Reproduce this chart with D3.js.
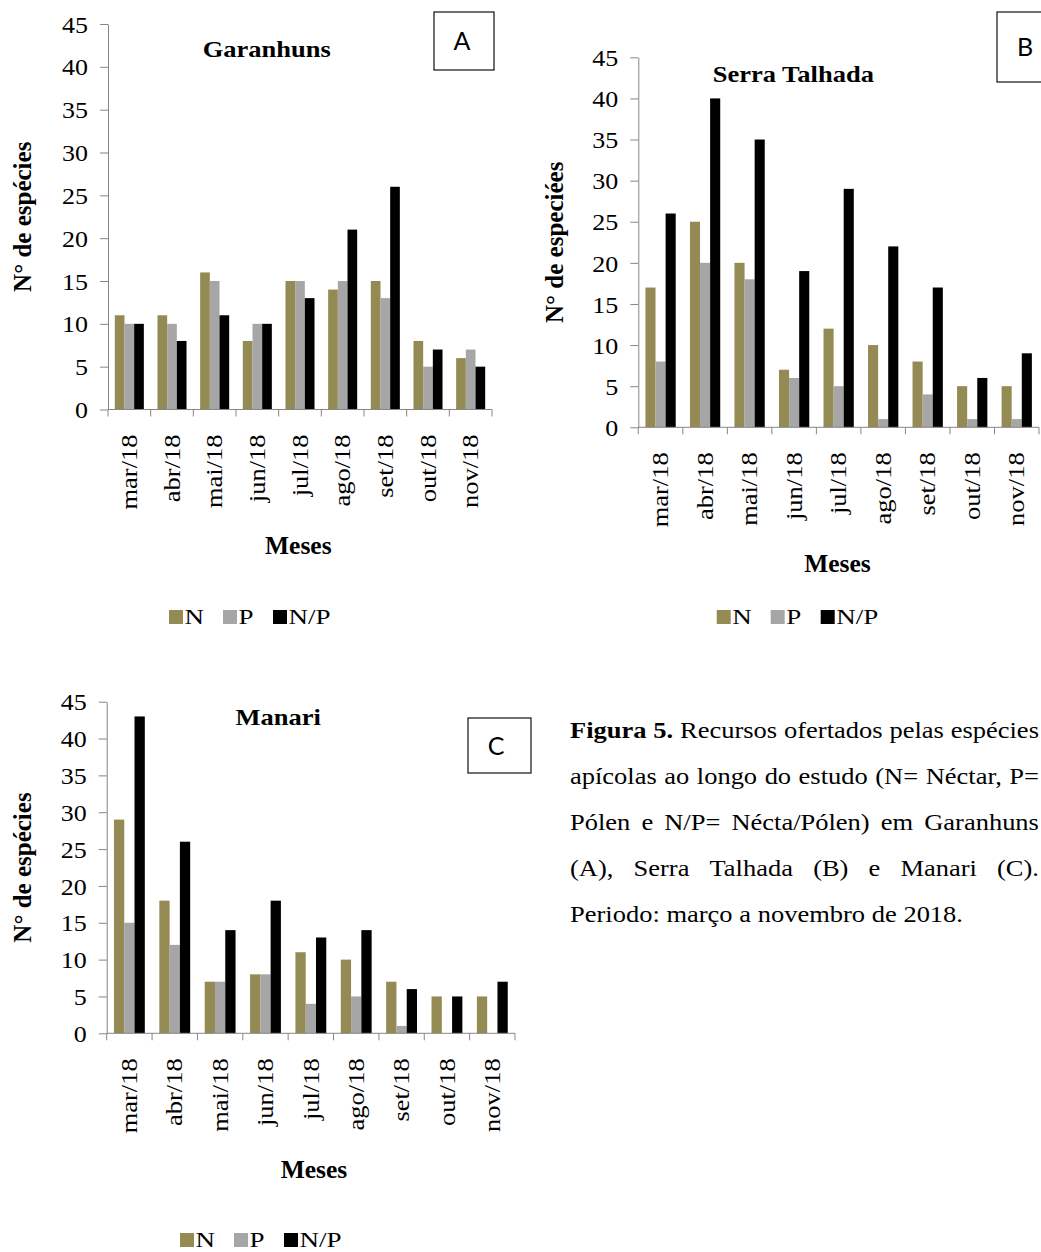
<!DOCTYPE html>
<html>
<head>
<meta charset="utf-8">
<script src="https://cdn.jsdelivr.net/npm/d3@7"></script>
<style>
  html, body { margin: 0; padding: 0; background: #fff; }
  svg { display: block; }
</style>
</head>
<body>
<svg id="fig" width="1041" height="1252"></svg>
<script>
// ---------------- data ----------------
const months = ["mar/18","abr/18","mai/18","jun/18","jul/18","ago/18","set/18","out/18","nov/18"];
const seriesNames = ["N","P","N/P"];
const seriesColors = ["#948A54","#A6A6A6","#000000"];
const yTicks = [0,5,10,15,20,25,30,35,40,45];

const garanhunsN  = [11,11,16, 8,15,14,15, 8, 6];
const garanhunsP  = [10,10,15,10,15,15,13, 5, 7];
const garanhunsNP = [10, 8,11,10,13,21,26, 7, 5];

const serraN  = [17,25,20, 7,12,10, 8, 5, 5];
const serraP  = [ 8,20,18, 6, 5, 1, 4, 1, 1];
const serraNP = [26,40,35,19,29,22,17, 6, 9];

const manariN  = [29,18, 7, 8,11,10, 7, 5, 5];
const manariP  = [15,12, 7, 8, 4, 5, 1, 0, 0];
const manariNP = [43,26,14,18,13,14, 6, 5, 7];

const captionLines = [
  [["Figura",true],["5.",true],["Recursos",false],["ofertados",false],["pelas",false],["espécies",false]],
  [["apícolas",false],["ao",false],["longo",false],["do",false],["estudo",false],["(N=",false],["Néctar,",false],["P=",false]],
  [["Pólen",false],["e",false],["N/P=",false],["Nécta/Pólen)",false],["em",false],["Garanhuns",false]],
  [["(A),",false],["Serra",false],["Talhada",false],["(B)",false],["e",false],["Manari",false],["(C).",false]],
  [["Periodo:",false],["março",false],["a",false],["novembro",false],["de",false],["2018.",false]]
];

// ---------------- layout ----------------
const SERIF = "'Liberation Serif','Times New Roman',serif";
const SANS = "Lato,'Open Sans',sans-serif";
const AXIS = "#868686";
const K = 0.87; // vertical glyph compression

const panels = [
  { title:"Garanhuns", ylab:"N° de espécies", tag:"A",
    values:[garanhunsN, garanhunsP, garanhunsNP],
    x0:108, x1:492, yTop:24, yBot:409.5,
    titleX:266.7, titleY:56.7, ylabX:31, mesesX:298.3,
    box:{x:434,y:12,w:60,h:58}, legX:169, legY:610 },
  { title:"Serra Talhada", ylab:"N° de especiées", tag:"B",
    values:[serraN, serraP, serraNP],
    x0:638.3, x1:1039, yTop:57.3, yBot:427.3,
    titleX:793.3, titleY:81.7, ylabX:563, mesesX:837.5,
    box:{x:997,y:12,w:60,h:70}, legX:716.7, legY:610 },
  { title:"Manari", ylab:"N° de espécies", tag:"C",
    values:[manariN, manariP, manariNP],
    x0:106.7, x1:515, yTop:701.7, yBot:1033.3,
    titleX:278.3, titleY:725, ylabX:31, mesesX:314,
    box:{x:468,y:718,w:63,h:55}, legX:180, legY:1233 }
];

const svg = d3.select("#fig");

function label(g, x, y, str, o) {
  o = o || {};
  const t = g.append("text")
    .attr("transform", `translate(${x},${y})` + (o.rot ? ` rotate(${o.rot})` : "") + ` scale(1,${o.k || K})`)
    .attr("font-family", o.family || SERIF)
    .attr("font-size", o.size || 26)
    .attr("font-weight", o.bold ? "bold" : "normal")
    .attr("text-anchor", o.anchor || "start")
    .attr("fill", "#000")
    .text(str);
  if (o.dy) t.attr("dy", o.dy);
  return t;
}

panels.forEach(p => {
  const g = svg.append("g");
  const x = d3.scaleBand().domain(months).range([p.x0, p.x1]).paddingInner(0.32).paddingOuter(0.16);
  const xs = d3.scaleBand().domain(seriesNames).range([0, x.bandwidth()]);
  const y = d3.scaleLinear().domain([0,45]).range([p.yBot, p.yTop]);

  // bars
  seriesNames.forEach((s, si) => {
    g.append("g").selectAll("rect").data(months.map((m,i)=>({m, v:p.values[si][i]})))
      .join("rect")
      .attr("x", d => x(d.m) + xs(s))
      .attr("width", xs.bandwidth())
      .attr("y", d => y(d.v))
      .attr("height", d => p.yBot - y(d.v))
      .attr("fill", seriesColors[si]);
  });

  // y axis
  const ya = g.append("g").attr("transform", `translate(${p.x0},0)`)
    .call(d3.axisLeft(y).tickValues(yTicks).tickSize(8).tickSizeOuter(0).tickPadding(12));
  ya.select(".domain").attr("stroke", AXIS);
  ya.selectAll(".tick line").attr("stroke", AXIS);
  ya.selectAll(".tick text")
    .attr("font-family", SERIF).attr("font-size", 26).attr("fill", "#000")
    .attr("dy", "0.36em")
    .attr("transform", `scale(1,${K})`);

  // x axis line + boundary ticks
  g.append("line").attr("x1", p.x0).attr("x2", p.x1).attr("y1", p.yBot).attr("y2", p.yBot).attr("stroke", AXIS);
  g.append("g").selectAll("line").data(d3.range(months.length + 1)).join("line")
    .attr("x1", i => p.x0 + i * (p.x1 - p.x0) / months.length)
    .attr("x2", i => p.x0 + i * (p.x1 - p.x0) / months.length)
    .attr("y1", p.yBot).attr("y2", p.yBot + 7)
    .attr("stroke", AXIS);

  // x tick labels (rotated)
  months.forEach(m => {
    label(g, x(m) + x.bandwidth()/2, p.yBot + 25, m, {rot:-90, anchor:"end", size:26.5, k:0.85, dy:"0.34em"});
  });

  // title
  label(g, p.titleX, p.titleY, p.title, {bold:true, anchor:"middle", size:26.5, k:0.88});
  // y label
  label(g, p.ylabX, (p.yTop + p.yBot)/2, p.ylab, {bold:true, anchor:"middle", size:25, rot:-90, k:1.0});
  // Meses
  label(g, p.mesesX, p.yBot + 144.8, "Meses", {bold:true, anchor:"middle", size:25.5, k:0.95});

  // tag box
  g.append("rect").attr("x", p.box.x).attr("y", p.box.y).attr("width", p.box.w).attr("height", p.box.h)
    .attr("fill", "#fff").attr("stroke", "#222").attr("stroke-width", 1.3);
  label(g, p.box.x + 28, p.box.y + p.box.h/2 + 9, p.tag, {family:SANS, size:25, anchor:"middle", k:1});

  // legend
  const ly = p.legY;
  const offs = [0, 54, 104];
  seriesNames.forEach((s, si) => {
    g.append("rect").attr("x", p.legX + offs[si]).attr("y", ly).attr("width", 14).attr("height", 14)
      .attr("fill", seriesColors[si]);
    label(g, p.legX + offs[si] + 15.5, ly + 14.3, s, {size:27, k:0.8});
  });
});

// ---------------- caption (justified) ----------------
const cap = svg.append("g");
const capX = 570, capRight = 1039, capY0 = 738.3, capLH = 46, capSize = 26.5, capK = 0.85;
captionLines.forEach((words, li) => {
  const yy = capY0 + li * capLH;
  const els = words.map(([w, b]) =>
    cap.append("text")
      .attr("font-family", SERIF).attr("font-size", capSize)
      .attr("font-weight", b ? "bold" : "normal")
      .attr("fill", "#000").text(w));
  let widths = els.map(e => e.node().getComputedTextLength());
  const justify = li < captionLines.length - 1;
  const minGap = capSize * 0.2;
  let total = d3.sum(widths);
  let sx = 1;
  if (justify && total + minGap * (words.length - 1) > capRight - capX) {
    sx = (capRight - capX - minGap * (words.length - 1)) / total;
    widths = widths.map(w => w * sx);
    total = d3.sum(widths);
  }
  const gap = justify ? (capRight - capX - total) / (words.length - 1) : capSize * 0.25;
  let cx = capX;
  els.forEach((e, i) => {
    e.attr("transform", `translate(${cx},${yy}) scale(${sx},${capK})`);
    cx += widths[i] + gap;
  });
});
</script>
</body>
</html>
